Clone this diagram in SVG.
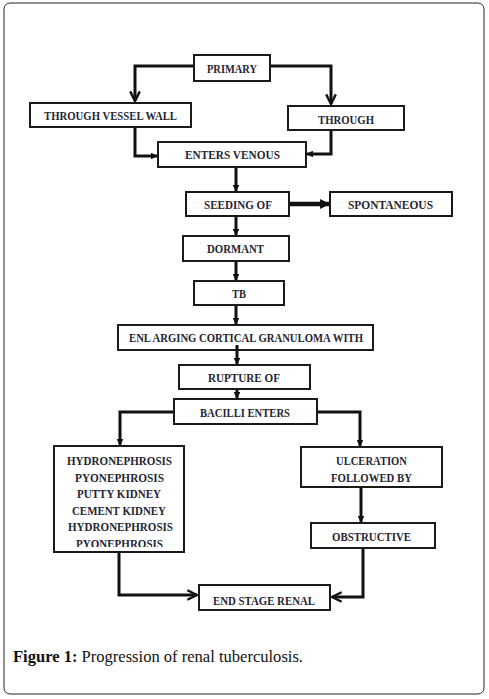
<svg xmlns="http://www.w3.org/2000/svg" width="489" height="699" viewBox="0 0 489 699">
<defs>
<style>
.box{fill:#fff;stroke:#1a1a1a;stroke-width:2}
.t{font-family:"Liberation Serif","DejaVu Serif",serif;font-weight:bold;font-size:12.5px;fill:#262633;text-anchor:middle}
.c{fill:none;stroke:#111;stroke-width:3;stroke-linejoin:miter}
.cap{font-family:"Liberation Serif","DejaVu Serif",serif;font-size:16px;fill:#111}
</style>
<marker id="chev" viewBox="0 0 10 10" refX="9" refY="5" markerWidth="4" markerHeight="4" orient="auto" markerUnits="strokeWidth">
<path d="M1,1 L9,5 L1,9" fill="none" stroke="#111" stroke-width="2"/>
</marker>
<marker id="tri" viewBox="0 0 10 10" refX="9" refY="5" markerWidth="2.2" markerHeight="2.2" orient="auto" markerUnits="strokeWidth">
<path d="M0,0 L10,5 L0,10 Z" fill="#111"/>
</marker>
<clipPath id="hclip"><rect x="55" y="447" width="128" height="100"/></clipPath>
</defs>
<rect x="4" y="3" width="480" height="691" rx="6" fill="#fff" stroke="#222" stroke-width="1"/>
<g id="connectors">
<path class="c" d="M194,66 H135 V101" marker-end="url(#chev)"/>
<path class="c" d="M270,66 H331 V104" marker-end="url(#chev)"/>
<path class="c" d="M135,127 V156 H157" marker-end="url(#tri)"/>
<path class="c" d="M331,130 V154 H307" marker-end="url(#tri)"/>
<path class="c" d="M236,167 V191" marker-end="url(#tri)"/>
<path class="c" d="M289,204 H329" style="stroke-width:4.5" marker-end="url(#tri)"/>
<path class="c" d="M236,216 V235" marker-end="url(#tri)"/>
<path class="c" d="M236,261 V280" marker-end="url(#tri)"/>
<path class="c" d="M236,305 V324" marker-end="url(#tri)"/>
<path class="c" d="M237,345 V364" marker-end="url(#tri)"/>
<path class="c" d="M237,389 V398" marker-end="url(#tri)"/>
<path class="c" d="M174,412 H120 V445" marker-end="url(#tri)"/>
<path class="c" d="M317,412 H360 V446" marker-end="url(#tri)"/>
<path class="c" d="M361,487 V522" marker-end="url(#tri)"/>
<path class="c" d="M119,552 V595 H197" marker-end="url(#chev)"/>
<path class="c" d="M363,548 V597 H332" marker-end="url(#chev)"/>
</g>
<g id="n1"><rect class="box" x="194" y="55" width="76" height="26"/><text class="t" x="232" y="72.5" textLength="50" lengthAdjust="spacingAndGlyphs">PRIMARY</text></g>
<g id="n2"><rect class="box" x="30" y="103" width="161" height="24"/><text class="t" x="110.5" y="119.5" textLength="133" lengthAdjust="spacingAndGlyphs">THROUGH VESSEL WALL</text></g>
<g id="n3"><rect class="box" x="288" y="106" width="116" height="24"/><text class="t" x="346" y="124" textLength="56" lengthAdjust="spacingAndGlyphs">THROUGH</text></g>
<g id="n4"><rect class="box" x="158" y="142" width="148" height="25"/><text class="t" x="232.5" y="159" textLength="95" lengthAdjust="spacingAndGlyphs">ENTERS VENOUS</text></g>
<g id="n5"><rect class="box" x="186" y="192" width="103" height="24"/><text class="t" x="238" y="208.5" textLength="68" lengthAdjust="spacingAndGlyphs">SEEDING OF</text></g>
<g id="n6"><rect class="box" x="330" y="192" width="122" height="24"/><text class="t" x="390.5" y="208.5" textLength="85" lengthAdjust="spacingAndGlyphs">SPONTANEOUS</text></g>
<g id="n7"><rect class="box" x="183" y="236" width="106" height="25"/><text class="t" x="235.5" y="253" textLength="57" lengthAdjust="spacingAndGlyphs">DORMANT</text></g>
<g id="n8"><rect class="box" x="194" y="281" width="90" height="24"/><text class="t" x="239" y="297.5" textLength="14" lengthAdjust="spacingAndGlyphs">TB</text></g>
<g id="n9"><rect class="box" x="118" y="325" width="255" height="25"/><text class="t" x="246" y="342" textLength="234" lengthAdjust="spacingAndGlyphs">ENL ARGING CORTICAL GRANULOMA WITH</text></g>
<path class="c" d="M237,345 V350"/>
<g id="n10"><rect class="box" x="179" y="365" width="131" height="24"/><text class="t" x="244" y="381.5" textLength="72" lengthAdjust="spacingAndGlyphs">RUPTURE OF</text></g>
<g id="n11"><rect class="box" x="174" y="399" width="143" height="25"/><text class="t" x="245" y="417" textLength="90" lengthAdjust="spacingAndGlyphs">BACILLI ENTERS</text></g>
<g id="n12"><rect class="box" x="54" y="446" width="130" height="106"/>
<g clip-path="url(#hclip)">
<text class="t" x="119.5" y="465" textLength="105" lengthAdjust="spacingAndGlyphs">HYDRONEPHROSIS</text>
<text class="t" x="119.5" y="481.5" textLength="89" lengthAdjust="spacingAndGlyphs">PYONEPHROSIS</text>
<text class="t" x="119" y="498" textLength="84" lengthAdjust="spacingAndGlyphs">PUTTY KIDNEY</text>
<text class="t" x="119" y="514.5" textLength="94" lengthAdjust="spacingAndGlyphs">CEMENT KIDNEY</text>
<text class="t" x="120.5" y="531" textLength="105" lengthAdjust="spacingAndGlyphs">HYDRONEPHROSIS</text>
<text class="t" x="119.5" y="547.5" textLength="87" lengthAdjust="spacingAndGlyphs">PYONEPHROSIS</text>
</g></g>
<g id="n13"><rect class="box" x="301" y="447" width="141" height="40"/><text class="t" x="371.5" y="465" textLength="71" lengthAdjust="spacingAndGlyphs">ULCERATION</text><text class="t" x="371.5" y="481.5" textLength="81" lengthAdjust="spacingAndGlyphs">FOLLOWED BY</text></g>
<g id="n14"><rect class="box" x="311" y="523" width="124" height="25"/><text class="t" x="371.5" y="541" textLength="79" lengthAdjust="spacingAndGlyphs">OBSTRUCTIVE</text></g>
<g id="n15"><rect class="box" x="199" y="585" width="131" height="25"/><text class="t" x="264" y="604.5" textLength="102" lengthAdjust="spacingAndGlyphs">END STAGE RENAL</text></g>
<text class="cap" x="13" y="662" textLength="290" lengthAdjust="spacingAndGlyphs"><tspan font-weight="bold">Figure 1:</tspan> Progression of renal tuberculosis.</text>
</svg>
